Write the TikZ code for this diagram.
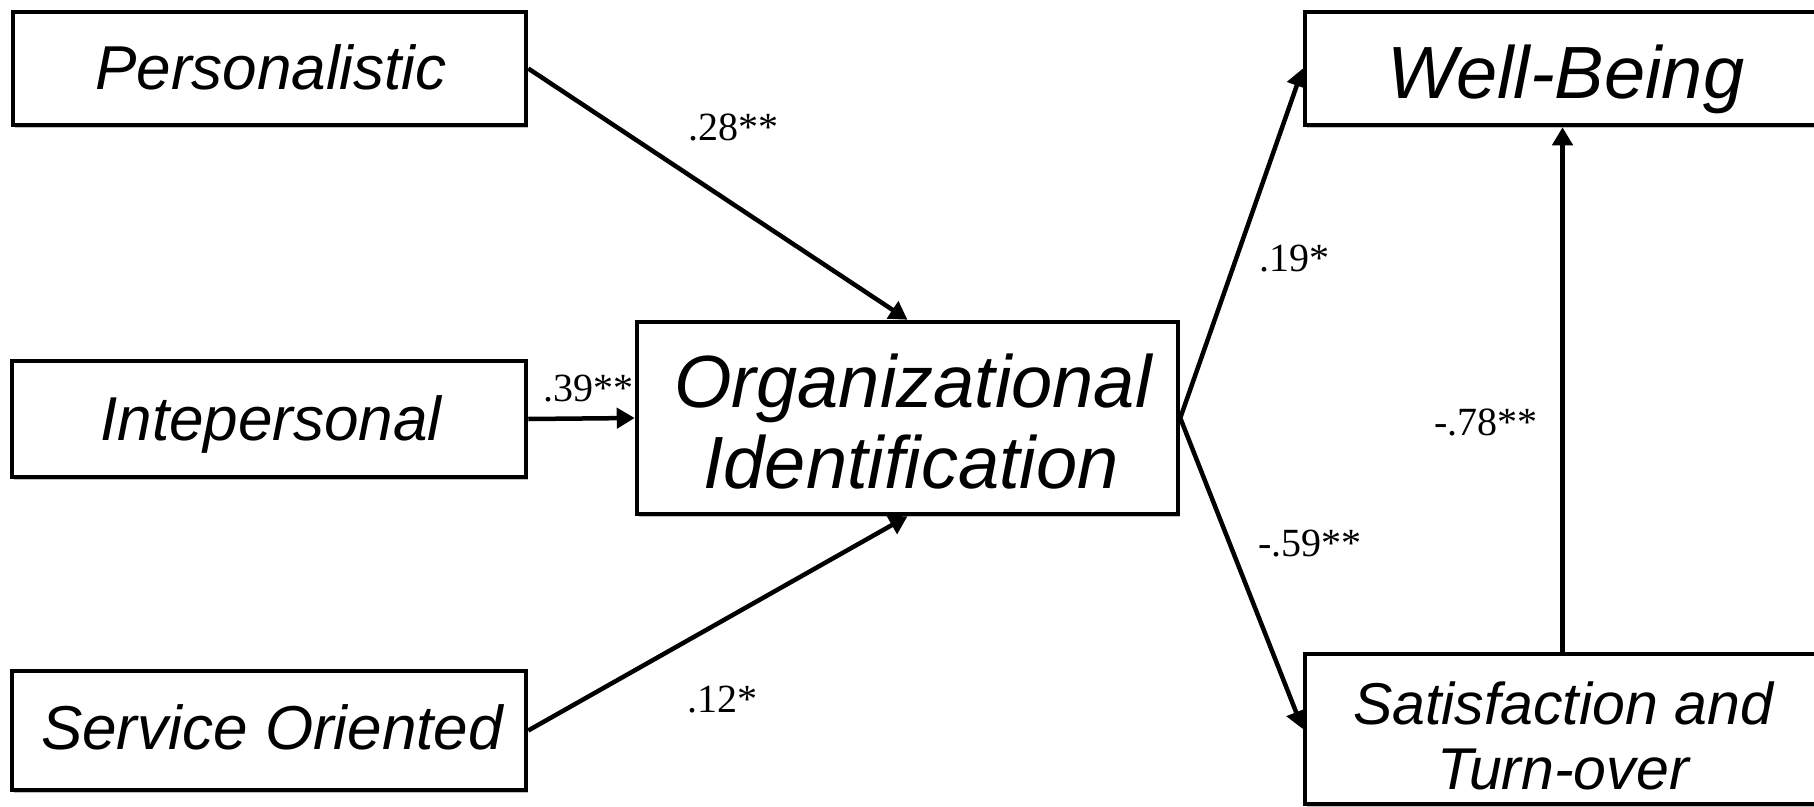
\documentclass[tikz,border=0pt]{standalone}
\usepackage{fontspec}
\newfontfamily\arialf{Liberation Sans}
\newfontfamily\labf{Liberation Serif}
\usetikzlibrary{arrows.meta,shadows}
\begin{document}
\begin{tikzpicture}[x=1pt,y=-1pt,
  box/.style={draw=black, line width=4.5pt, fill=white, rectangle, inner sep=0pt,
    drop shadow={shadow xshift=2pt, shadow yshift=-3pt, opacity=0.25, fill=black}},
  btxt/.style={anchor=base, inner sep=0pt, font=\arialf\itshape\fontsize{62pt}{74pt}\selectfont},
  bigtxt/.style={anchor=base, inner sep=0pt, font=\arialf\itshape\fontsize{74pt}{88pt}\selectfont},
  sattxt/.style={anchor=base, inner sep=0pt, font=\arialf\itshape\fontsize{59pt}{70pt}\selectfont},
  arr/.style={line width=4.5pt, -{Triangle[length=18pt,width=20pt]}},
  lab/.style={inner sep=0pt, font=\labf\fontsize{40pt}{44pt}\selectfont}]
\useasboundingbox (0,0) rectangle (1814,806);
\clip (0,0) rectangle (1814,806);
\fill[white] (0,0) rectangle (1814,806);
% boxes
\node[box, minimum width=513pt, minimum height=113pt] (pers) at (269.5,68.5) {};
\node[box, minimum width=514pt, minimum height=116pt] (inter) at (269,419) {};
\node[box, minimum width=514pt, minimum height=119pt] (serv) at (269,730.5) {};
\node[box, minimum width=541pt, minimum height=192pt] (org) at (907.5,418) {};
\node[box, minimum width=515pt, minimum height=113pt] (wb) at (1562.5,68.5) {};
\node[box, minimum width=515pt, minimum height=150pt] (sat) at (1562.5,729) {};
% texts
\node[btxt] (perst) at (271,89) {Personalistic};
\node[btxt] (intert) at (271,440) {Intepersonal};
\node[btxt] (servt) at (272,749) {Service Oriented};
\node[bigtxt] (orgt1) at (913,407) {Organizational};
\node[bigtxt] (orgt2) at (911,488) {Identification};
\node[bigtxt] (wbt) at (1566,98) {Well-Being};
\node[sattxt] (satt1) at (1563,724) {Satisfaction and};
\node[sattxt] (satt2) at (1563,789) {Turn-over};
% connectors
\draw[arr] (pers.east) -- (org.north);
\draw[arr] (inter.east) -- (org.west);
\draw[arr] (serv.east) -- (org.south);
\draw[arr] (org.east) -- (wb.west);
\draw[arr] (org.east) -- (sat.west);
\draw[arr] (sat.north) -- (wb.south);
% labels
\node[lab] (l1) at (733,127) {.28**};
\node[lab] (l2) at (588,389) {.39**};
\node[lab] (l3) at (722,700) {.12*};
\node[lab] (l4) at (1294,259) {.19*};
\node[lab] (l5) at (1310,544) {-.59**};
\node[lab] (l6) at (1486,422) {-.78**};
\end{tikzpicture}
\end{document}
